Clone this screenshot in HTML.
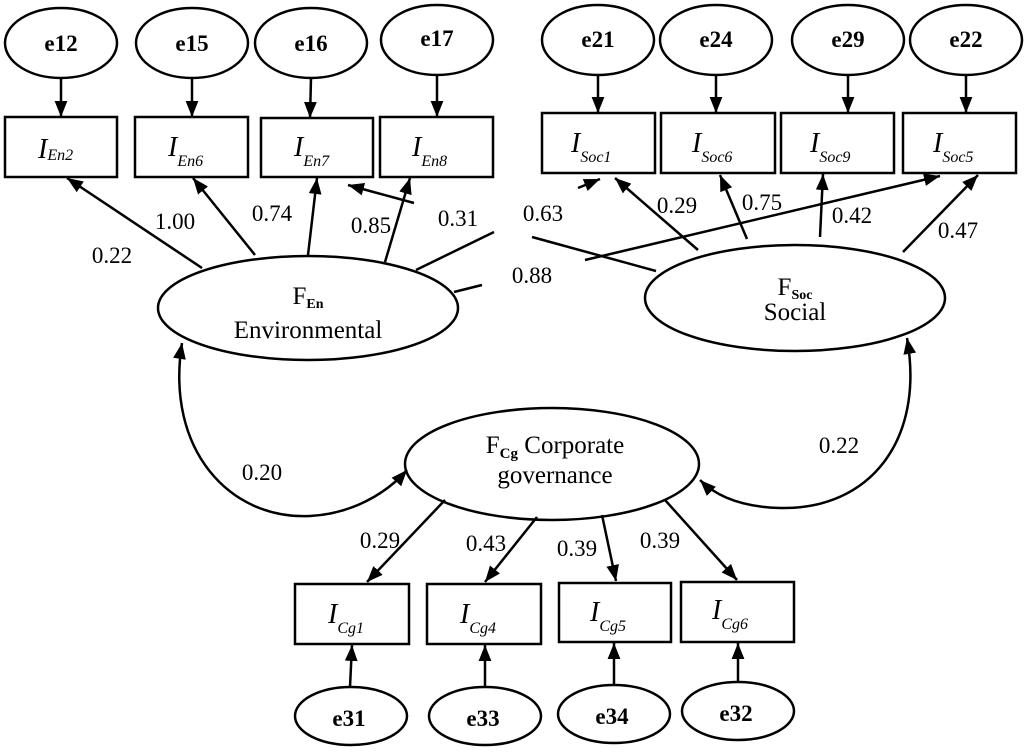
<!DOCTYPE html>
<html><head><meta charset="utf-8"><style>
html,body{margin:0;padding:0;background:#fff}
svg{display:block}
text{font-family:"Liberation Serif",serif;fill:#000}
.e{font-size:23px;font-weight:bold}
.n{font-size:23px}
.I{font-size:28px;font-style:italic}
.s{font-size:16px;font-style:italic}
.f{font-size:25px}
</style></head><body>
<svg width="1024" height="752" viewBox="0 0 1024 752">
<defs><marker id="b" viewBox="0 0 10 10" refX="10" refY="5" markerWidth="16" markerHeight="16" orient="auto" markerUnits="userSpaceOnUse"><path d="M0,1 L10,5 L0,9 z" fill="#000"/></marker></defs>
<g fill="none" stroke="#000" stroke-width="2.5">
<ellipse cx="61" cy="43" rx="56" ry="35"/><ellipse cx="192" cy="43" rx="56" ry="35"/><ellipse cx="311" cy="43" rx="56" ry="35"/><ellipse cx="437" cy="40" rx="56" ry="35"/>
<ellipse cx="598" cy="40" rx="56" ry="35"/><ellipse cx="716" cy="40" rx="56" ry="35"/><ellipse cx="848" cy="40" rx="56" ry="35"/><ellipse cx="966" cy="40" rx="56" ry="35"/>
<rect x="5" y="117" width="112" height="60"/><rect x="135" y="117" width="113" height="60"/><rect x="261" y="118" width="112" height="59"/><rect x="380" y="117" width="113" height="60"/>
<rect x="542" y="113" width="113" height="60"/><rect x="661" y="113" width="114" height="60"/><rect x="781" y="113" width="113" height="60"/><rect x="903" y="113" width="113" height="60"/>
<rect x="295" y="584" width="114" height="60"/><rect x="427" y="584" width="114" height="60"/><rect x="559" y="583" width="112" height="59"/><rect x="681" y="582" width="113" height="60"/>
<ellipse cx="308" cy="308" rx="150" ry="52"/><ellipse cx="795" cy="298" rx="150" ry="53"/><ellipse cx="552" cy="464" rx="147" ry="56"/>
<ellipse cx="351" cy="716" rx="56" ry="29"/><ellipse cx="485" cy="716" rx="56" ry="29"/><ellipse cx="614" cy="714" rx="56" ry="29"/><ellipse cx="738" cy="711" rx="56" ry="29"/>
</g>
<g stroke="#000" stroke-width="2.5" fill="none" marker-end="url(#b)">
<line x1="61" y1="78" x2="61" y2="117"/><line x1="192" y1="78" x2="192" y2="117"/><line x1="311" y1="78" x2="310" y2="118"/><line x1="437" y1="75" x2="437" y2="117"/>
<line x1="598" y1="75" x2="598" y2="113"/><line x1="716" y1="75" x2="716" y2="113"/><line x1="848" y1="75" x2="848" y2="113"/><line x1="966" y1="75" x2="966" y2="113"/>
<line x1="202" y1="268" x2="67" y2="178"/><line x1="255" y1="255" x2="193" y2="178"/><line x1="308" y1="255" x2="317" y2="178"/><line x1="385" y1="262" x2="410" y2="178"/>
<line x1="414" y1="203" x2="348" y2="185"/>
<line x1="578" y1="188" x2="600" y2="179"/>
<line x1="585" y1="260" x2="940" y2="176"/>
<line x1="698" y1="250" x2="615" y2="178"/><line x1="747" y1="239" x2="720" y2="175"/><line x1="820" y1="237" x2="823" y2="174"/><line x1="903" y1="252" x2="978" y2="175"/>
<line x1="445" y1="500" x2="367" y2="582"/><line x1="537" y1="517" x2="485" y2="582"/><line x1="602" y1="515" x2="616" y2="581"/><line x1="665" y1="500" x2="737" y2="580"/>
<line x1="350" y1="687" x2="352" y2="645"/><line x1="485" y1="687" x2="485" y2="645"/><line x1="614" y1="685" x2="614" y2="643"/><line x1="738" y1="682" x2="738" y2="643"/>
<path d="M310,516 C350,514 385,495 407,470"/><path d="M310,516 C230,520 165,450 182,343"/>
<path d="M780,508 C740,507 715,495 700,480"/><path d="M780,508 C870,510 925,440 907,338"/>
</g>
<g stroke="#000" stroke-width="2.5">
<line x1="416" y1="270" x2="494" y2="232"/><line x1="454" y1="292" x2="482" y2="285"/><line x1="532" y1="237" x2="656" y2="271"/>
</g>
<g class="e" text-anchor="middle">
<text x="61" y="51">e12</text><text x="192" y="51">e15</text><text x="311" y="51">e16</text><text x="437" y="46">e17</text>
<text x="598" y="47">e21</text><text x="716" y="47">e24</text><text x="848" y="47">e29</text><text x="966" y="47">e22</text>
<text x="349" y="726">e31</text><text x="483" y="726">e33</text><text x="612" y="724">e34</text><text x="736" y="721">e32</text>
</g>
<g>
<text x="38" y="158" class="I">I<tspan class="s" dy="2">En2</tspan></text>
<text x="168" y="156" class="I">I<tspan class="s" dy="10">En6</tspan></text>
<text x="294" y="156" class="I">I<tspan class="s" dy="10">En7</tspan></text>
<text x="412" y="156" class="I">I<tspan class="s" dy="10">En8</tspan></text>
<text x="571" y="152" class="I">I<tspan class="s" dy="10">Soc1</tspan></text>
<text x="692" y="152" class="I">I<tspan class="s" dy="10">Soc6</tspan></text>
<text x="810" y="152" class="I">I<tspan class="s" dy="10">Soc9</tspan></text>
<text x="933" y="152" class="I">I<tspan class="s" dy="10">Soc5</tspan></text>
<text x="328" y="623" class="I">I<tspan class="s" dy="10">Cg1</tspan></text>
<text x="460" y="623" class="I">I<tspan class="s" dy="10">Cg4</tspan></text>
<text x="590" y="621" class="I">I<tspan class="s" dy="10">Cg5</tspan></text>
<text x="712" y="619" class="I">I<tspan class="s" dy="10">Cg6</tspan></text>
</g>
<g class="n" text-anchor="middle">
<text x="112" y="263">0.22</text><text x="175" y="229">1.00</text><text x="272" y="221">0.74</text><text x="371" y="233">0.85</text>
<text x="458" y="226">0.31</text><text x="543" y="221">0.63</text><text x="532" y="283">0.88</text>
<text x="677" y="213">0.29</text><text x="762" y="210">0.75</text><text x="852" y="223">0.42</text><text x="958" y="238">0.47</text>
<text x="262" y="480">0.20</text><text x="839" y="453">0.22</text>
<text x="380" y="548">0.29</text><text x="486" y="551">0.43</text><text x="577" y="556">0.39</text><text x="660" y="548">0.39</text>
</g>
<g class="f" text-anchor="middle">
<text x="308" y="304">F<tspan font-size="14" font-weight="bold" dy="4">En</tspan></text>
<text x="308" y="338">Environmental</text>
<text x="795" y="295">F<tspan font-size="14" font-weight="bold" dy="4">Soc</tspan></text>
<text x="795" y="320">Social</text>
<text x="555" y="453">F<tspan font-size="15" font-weight="bold" dy="5">Cg</tspan><tspan dy="-5"> Corporate</tspan></text>
<text x="555" y="483">governance</text>
</g>
</svg>
</body></html>
